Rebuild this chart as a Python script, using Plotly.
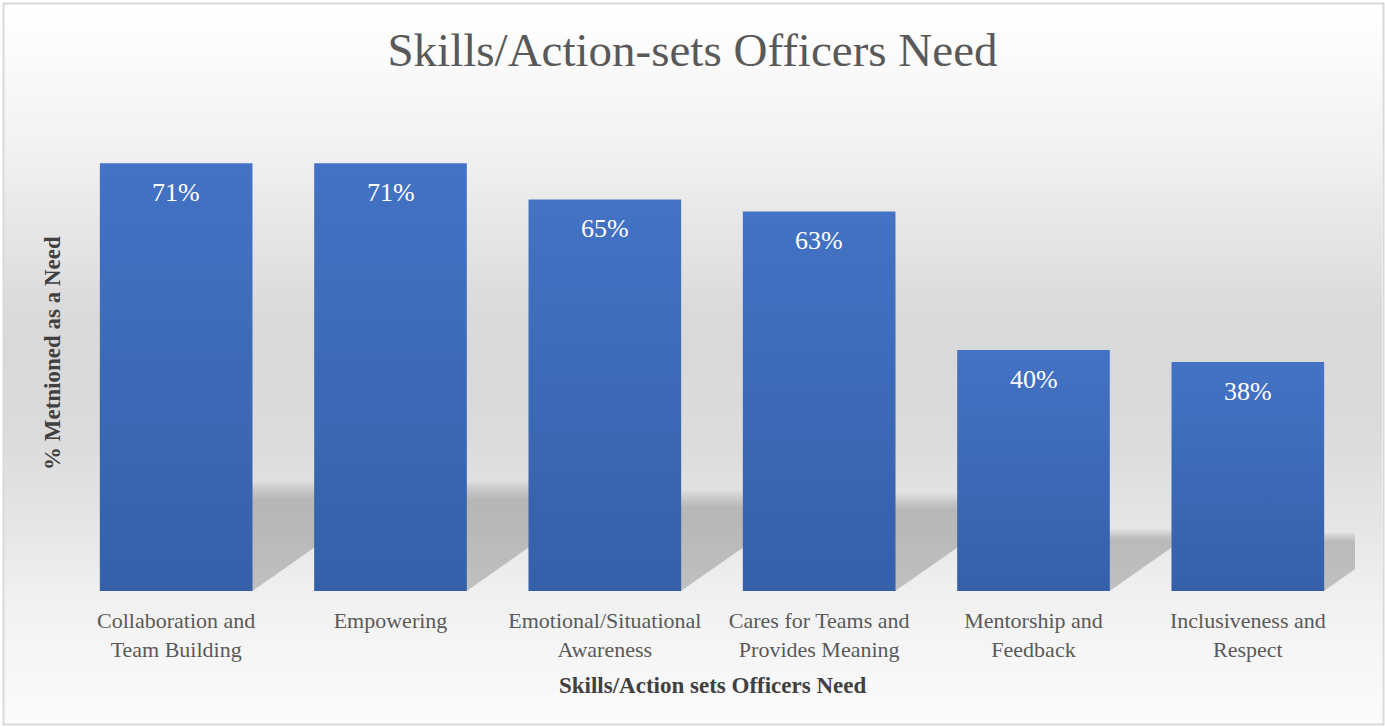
import base64
import struct
import zlib

import numpy as np
import plotly.graph_objects as go

# Survey results: share of respondents naming each skill as a need (%)
categories = [
    "Collaboration and<br>Team Building",
    "Empowering",
    "Emotional/Situational<br>Awareness",
    "Cares for Teams and<br>Provides Meaning",
    "Mentorship and<br>Feedback",
    "Inclusiveness and<br>Respect",
]
values = [71, 71, 65, 63, 40, 38]

TITLE = "Skills/Action-sets Officers Need"
X_TITLE = "Skills/Action sets Officers Need"
Y_TITLE = "% Metnioned as a Need"

FONT = "Liberation Serif, Times New Roman, serif"
W, H = 1385, 727
M_L, M_R, M_T, M_B = 69, 30, 109, 136
PW, PH = W - M_L - M_R, H - M_T - M_B
BARGAP = 0.288
BW = 1 - BARGAP
Y_MAX = 80


def px_x(x):
    return (x - M_L) / PW


def px_y(y):
    return (H - M_B - y) / PH


def gradient_png(stops, height, width=4):
    """Build a small vertical grey-gradient PNG (pure python)."""
    ys = np.arange(height)
    g = np.interp(ys, [s[0] for s in stops], [s[1] for s in stops]).round().astype(int)
    raw = b"".join(b"\x00" + bytes([v, v, v]) * width for v in g)

    def chunk(tag, data):
        return (struct.pack(">I", len(data)) + tag + data
                + struct.pack(">I", zlib.crc32(tag + data) & 0xFFFFFFFF))

    ihdr = struct.pack(">IIBBBBB", width, height, 8, 2, 0, 0, 0)
    png = (b"\x89PNG\r\n\x1a\n" + chunk(b"IHDR", ihdr)
           + chunk(b"IDAT", zlib.compress(raw, 9)) + chunk(b"IEND", b""))
    return "data:image/png;base64," + base64.b64encode(png).decode()


# chart-area background: white at top, grey in the middle, lighter at the floor
bg_stops = [(0, 255), (40, 252), (100, 246), (165, 239), (200, 233), (255, 226),
            (300, 219), (340, 217), (400, 218), (440, 220), (480, 225),
            (530, 231), (590, 240), (640, 245), (720, 251)]
bg_src = gradient_png(bg_stops, 720)

fig = go.Figure()

fig.add_trace(go.Bar(
    x=list(range(len(values))),
    y=values,
    width=BW,
    marker=dict(color="#4472c4", line=dict(width=0)),
    hoverinfo="skip",
    showlegend=False,
))

# darker tone toward the base of each bar
for i, v in enumerate(values):
    L, R = i - BW / 2, i + BW / 2
    fig.add_trace(go.Scatter(
        x=[L, R, R, L, L], y=[0, 0, v, v, 0],
        mode="none", fill="toself",
        fillgradient=dict(type="vertical", start=0, stop=v,
                          colorscale=[[0, "rgba(8,42,88,0.25)"],
                                      [1, "rgba(8,42,88,0)"]]),
        hoverinfo="skip", showlegend=False,
    ))

shapes = []
# skewed floor shadow cast by each bar, built up in soft layers
scales = np.linspace(0.91, 1.09, 10)
for i, v in enumerate(values):
    L, R = i - BW / 2, i + BW / 2
    sh = 0.237 * v
    s = 0.0095 * v
    for f in scales:
        path = (f"M {L},0 L {R},0 L {R + s * f},{sh * f} "
                f"L {L + s * f},{sh * f} Z")
        shapes.append(dict(type="path", path=path, xref="x", yref="y",
                           fillcolor="rgba(0,0,0,0.021)", line=dict(width=0),
                           layer="below"))

# outer frame
shapes.append(dict(type="rect", xref="paper", yref="paper",
                   x0=px_x(3.5), x1=px_x(1383.5), y0=px_y(724.5), y1=px_y(3.5),
                   line=dict(color="#d9d9d9", width=2), fillcolor="rgba(0,0,0,0)",
                   layer="above"))

annotations = []
for i, v in enumerate(values):
    annotations.append(dict(x=i, y=v, xref="x", yref="y", text=f"{v}%",
                            showarrow=False, yanchor="middle", yshift=-29,
                            font=dict(family=FONT, size=26, color="white")))

annotations.append(dict(x=0.5, y=px_y(685), xref="paper", yref="paper",
                        text=f"<b>{X_TITLE}</b>", showarrow=False,
                        xanchor="center", yanchor="middle",
                        font=dict(family=FONT, size=23, color="#404040")))
annotations.append(dict(x=px_x(52), y=px_y(353), xref="paper", yref="paper",
                        text=f"<b>{Y_TITLE}</b>", showarrow=False, textangle=-90,
                        xanchor="center", yanchor="middle",
                        font=dict(family=FONT, size=23, color="#404040")))

fig.update_layout(
    width=W, height=H,
    margin=dict(l=M_L, r=M_R, t=M_T, b=M_B, pad=0),
    paper_bgcolor="white",
    plot_bgcolor="rgba(0,0,0,0)",
    title=dict(text=TITLE, x=0.5, xanchor="center", xref="container",
               y=1 - 50 / H, yanchor="middle",
               font=dict(family=FONT, size=47, color="#595959")),
    images=[dict(source=bg_src, xref="paper", yref="paper",
                 x=px_x(4), y=px_y(4), sizex=(1382 - 4) / PW, sizey=(724 - 4) / PH,
                 xanchor="left", yanchor="top", sizing="stretch", layer="below")],
    shapes=shapes,
    annotations=annotations,
    bargap=BARGAP,
    xaxis=dict(
        range=[-0.5, len(values) - 0.5],
        tickmode="array", tickvals=list(range(len(values))), ticktext=categories,
        showgrid=False, zeroline=False, showline=False, ticks="",
        ticklabelstandoff=14,
        tickfont=dict(family=FONT, size=22, color="#595959"),
        fixedrange=True,
    ),
    yaxis=dict(range=[0, Y_MAX], visible=False, fixedrange=True),
    showlegend=False,
)

fig.write_html("out.html")
